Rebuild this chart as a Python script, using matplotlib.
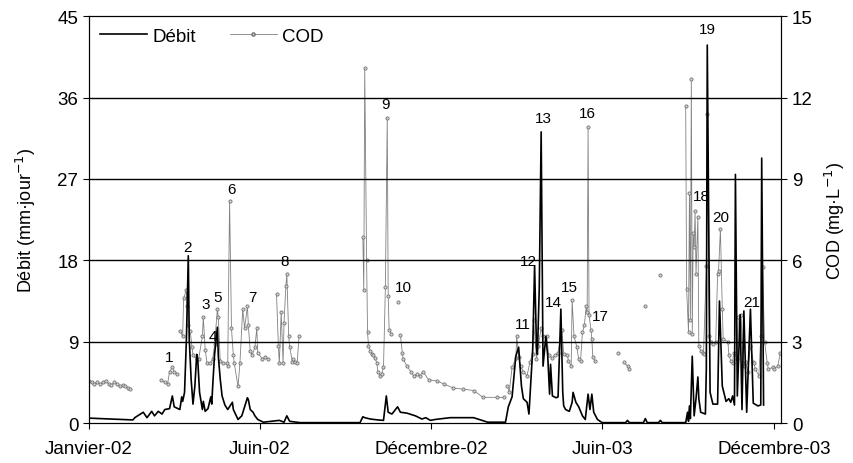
import numpy as np
import matplotlib.pyplot as plt
from matplotlib.lines import Line2D

nan = np.nan

# jours depuis le 1er decembre 2001
debit_jour = [0, 47, 49, 52, 58, 62, 67, 70, 74, 78, 81, 86, 89, 91, 97, 99, 100, 102, 104, 106,
              107, 109, 111, 113, 115, 116, 118, 121, 122, 124, 127, 130, 131, 132, 134, 137, 138,
              140, 142, 145, 148, 153, 154, 159, 163, 169, 170, 172, 175, 177, 180, 186, 203, 208,
              211, 214, 225, 289, 292, 294, 300, 308, 314, 317, 319, 323, 329, 332, 339, 348, 355,
              359, 364, 369, 385, 410, 425, 444, 447, 451, 455, 458, 461, 463, 467, 469, 473, 475,
              477, 478, 480, 482, 484, 487, 489, 491, 492, 494, 498, 500, 503, 505, 506, 508, 512,
              515, 516, 519, 522, 526, 529, 532, 534, 536, 538, 542, 547, 572, 574, 576, 591, 593,
              595, 607, 609, 611, 636, 638, 639, 640, 641, 643, 645, 647, 649, 650, 652, 657, 658,
              659, 662, 665, 670, 672, 675, 679, 682, 684, 686, 688, 689, 691, 694, 696, 698, 701,
              705, 708, 713, 716, 717, 719]
debit = [0.55, 0.35, 0.6, 0.8, 1.2, 0.6, 1.3, 0.8, 1.3, 1.0, 1.5, 1.6, 3.0, 1.8, 1.5, 2.9, 2.4, 3.4, 9.3, 18.5,
         9.3, 4.9, 2.1, 4.1, 7.6, 7.1, 3.4, 1.5, 2.4, 1.3, 1.6, 2.9, 2.1, 4.1, 7.6, 10.6, 7.4,
         4.9, 3.0, 2.0, 1.5, 2.3, 1.5, 0.4, 0.8, 2.8, 2.6, 1.5, 1.2, 0.8, 0.4, 0.1, 0.3, 0.1,
         0.8, 0.2, 0.05, 0.05, 0.7, 0.6, 0.45, 0.35, 0.3, 3.0, 1.2, 1.0, 1.8, 1.2, 1.1, 0.8, 0.45,
         0.6, 0.3, 0.4, 0.6, 0.6, 0.1, 0.1, 1.8, 2.9, 7.4, 8.4, 4.1, 2.7, 2.3, 1.0, 8.2, 17.4,
         8.5, 7.6, 15.0, 32.2, 6.3, 9.6, 7.4, 3.2, 6.5, 3.0, 2.8, 2.9, 12.6, 3.4, 1.9, 1.5, 1.3,
         2.3, 3.4, 2.3, 1.8, 0.8, 0.4, 3.2, 1.5, 3.2, 1.2, 0.4, 0.05, 0.05, 0.3, 0.05, 0.05, 0.5,
         0.05, 0.05, 0.3, 0.05, 0.05, 1.2, 0.2, 1.9, 0.5, 7.4, 0.8, 2.7, 5.1, 2.7, 1.2, 1.0, 6.0,
         41.8, 3.4, 2.1, 2.1, 13.5, 4.1, 2.4, 2.7, 2.3, 3.0, 2.0, 27.5, 3.0, 12.0, 1.5, 12.4, 1.2,
         12.6, 2.2, 1.9, 2.0, 29.3, 2.0]

cod_jour = [0, 3, 6, 9, 12, 15, 18, 21, 24, 27, 30, 33, 36, 39, 42, 44, 50,
            77, 81, 84, 86, 89, 91, 94, 96,
            97, 100, 101, 104, 105, 106, 108, 110, 111, 115, 117, 121, 122, 124, 126, 129, 132,
            134, 137, 138, 140, 143, 147, 148, 150, 152, 154, 155, 159, 161, 164, 166, 169, 170,
            172, 174, 177, 179, 180, 185, 188, 191, 195,
            200, 202, 203, 205, 207, 208, 210, 211, 213, 214, 217, 218, 220, 222, 224, 230,
            292, 293, 294, 296, 297, 298, 300, 302, 303, 305, 307, 308, 310, 312, 314, 316, 318,
            319, 320, 322, 326, 329, 331, 332, 334, 335, 339, 343, 346, 350, 353, 356, 362, 371,
            378, 388, 399, 410, 420, 435, 442, 445,
            446, 448, 451, 455, 456, 458, 460, 463, 467, 470, 473, 474, 477, 479, 482, 484, 488,
            490, 494, 497, 500, 504, 506, 510, 511, 514, 515, 517, 520, 522, 524, 526, 528, 530,
            531, 532, 533, 535, 536, 537, 539, 545,
            564, 567, 570, 574, 576, 580, 593, 600, 609, 620,
            636, 637, 639, 640, 641, 642, 643, 644, 645, 646, 647, 649, 650, 652, 654, 655, 658,
            659, 661, 663, 665, 668, 670, 671, 673, 675, 676, 681, 682, 684, 686, 687, 691, 692,
            695, 697, 698, 700, 702, 705, 708, 709, 710, 714, 716, 718, 720, 723, 724, 729, 730,
            734, 737]
cod = [1.55, 1.5, 1.45, 1.5, 1.45, 1.5, 1.55, 1.45, 1.4, 1.5, 1.45, 1.35, 1.4, 1.35, 1.3, 1.25, nan,
       1.6, 1.5, 1.45, 1.9, 2.05, 1.9, 1.8, nan,
       3.4, 3.2, 4.6, 4.9, 4.3, 3.6, 3.4, 2.8, 2.5, 2.35, 2.35, 3.2, 3.9, 2.7, 2.2, 2.2, 2.35,
       2.9, 4.2, 3.9, 2.3, 2.2, 2.2, 2.1, 8.2, 3.5, 2.5, 2.2, 1.35, 2.2, 4.2, 3.5, 4.3, 3.6,
       2.65, 2.5, 2.8, 3.5, 2.6, 2.35, 2.45, 2.35, nan,
       4.75, 2.85, 2.2, 4.1, 2.2, 3.7, 5.05, 5.5, 3.2, 2.8, 2.25, 2.35, 2.25, 2.2, 3.2, nan,
       6.85, 4.9, 13.1, 6.0, 3.35, 2.85, 2.65, 2.55, 2.5, 2.4, 2.2, 1.9, 1.75, 1.8, 2.05, 5.0, 11.25,
       4.7, 3.45, 3.3, nan, 4.45, nan, 3.25, 2.6, 2.35, 2.1, 1.9, 1.75, 1.8, 1.75, 1.9, 1.6, 1.55,
       1.45, 1.3, 1.25, 1.2, 0.95, 0.95, 0.95, nan,
       1.35, 1.15, 2.05, 2.4, 3.2, 2.45, 2.1, 1.9, 1.75, 2.25, 2.55, 3.8, 2.35, 2.85, 3.5, 3.2, 3.2,
       2.5, 2.4, 2.5, 2.6, 3.45, 2.55, 2.5, 2.3, 2.1, 4.55, 3.2, 2.8, 2.35, 2.3, 3.35, 3.6, 4.3,
       4.1, 10.9, 4.0, 3.45, 3.1, 2.45, 2.3, nan,
       2.6, nan, 2.25, 2.1, 2.0, nan, 4.3, nan, 5.45, nan,
       11.7, 4.95, 3.35, 8.5, 3.8, 12.7, 3.3, 7.0, 6.5, 7.8, 5.5, 7.6, 2.85, 2.65, 2.6, 2.55, 5.8,
       11.4, 3.2, 3.0, 2.9, 3.0, 5.5, 5.6, 7.15, 4.2, 3.1, 3.0, 2.5, 2.3, 2.2, 2.6, 2.35, 3.9,
       4.0, 2.2, 2.1, 2.25, 1.9, 2.85, 2.25, 2.2, 2.0, 1.75, 3.2, 5.75, 3.0, 2.2, 2.0, 2.05, 2.0,
       2.1, 2.6]

# numeros des evenements (jour, hauteur sur l'axe du debit)
evt_num = [str(i) for i in range(1, 22)]
evt_jour = [86, 105, 125, 132, 137, 152, 174, 209, 316, 335, 462, 468, 484, 495, 512, 531, 545,
            653, 659, 673, 706]
evt_y = [7.3, 19.5, 13.2, 9.6, 13.9, 25.9, 13.9, 17.9, 35.3, 15.0, 11.0, 17.9, 33.7, 13.4, 15.0,
         34.3, 11.8, 25.1, 43.6, 22.8, 13.4]

mois_pos = [0, 182, 365, 547, 730]
mois_lab = ['Janvier-02', 'Juin-02', 'Décembre-02', 'Juin-03', 'Décembre-03']

plt.rcParams['font.family'] = ['Liberation Sans Narrow', 'Liberation Sans', 'DejaVu Sans']

fig = plt.figure(figsize=(8.54, 4.64), dpi=100)
ax = fig.add_axes([0.104, 0.086, 0.811, 0.877])
ax2 = ax.twinx()
ax.set_zorder(2)
ax.patch.set_visible(False)

for y in [9, 18, 27, 36]:
    ax.axhline(y, color='black', lw=1.0, zorder=0)

ax2.plot(cod_jour, cod, color='0.5', lw=0.6, marker='o', ms=2.3,
         mfc='0.82', mec='0.45', mew=0.6)
ax.plot(debit_jour, debit, color='black', lw=1.2)

for n, d, y in zip(evt_num, evt_jour, evt_y):
    ax.text(d, y, n, ha='center', va='center', fontsize=11)

ax.set_xlim(0, 738)
ax.set_ylim(0, 45)
ax2.set_ylim(0, 15)
ax.set_yticks([0, 9, 18, 27, 36, 45])
ax2.set_yticks([0, 3, 6, 9, 12, 15])
ax.set_xticks(mois_pos)
ax.set_xticklabels(mois_lab)
for a in (ax, ax2):
    a.tick_params(labelsize=13.5, direction='out', length=4, width=0.8)
ax.tick_params(axis='x', pad=8)
ax.set_ylabel('Débit (mm·jour$^{-1}$)', fontsize=13, labelpad=14)
ax2.set_ylabel('COD (mg·L$^{-1}$)', fontsize=13, labelpad=7)

h1 = Line2D([], [], color='black', lw=1.2)
h2 = Line2D([], [], color='0.5', lw=0.6, marker='o', ms=2.3, mfc='0.82', mec='0.45')
ax.legend([h1, h2], ['Débit', 'COD'], loc='upper left', ncol=2, frameon=False,
          fontsize=13.5, handlelength=2.5, handletextpad=0.3, columnspacing=1.8,
          borderaxespad=0.2)

fig.savefig('out.png', dpi=100)
